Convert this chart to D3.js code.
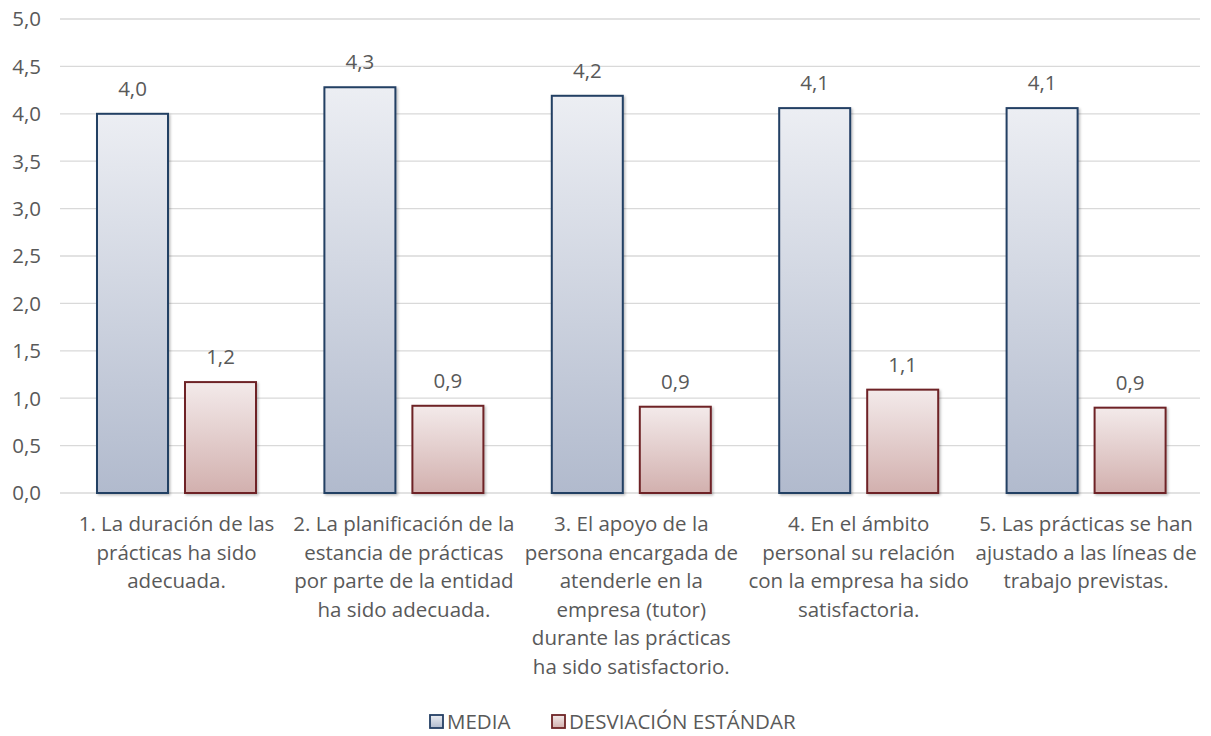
<!DOCTYPE html>
<html><head><meta charset="utf-8">
<script src="https://cdn.jsdelivr.net/npm/d3@7"></script>
<style>body{margin:0;background:#fff;} svg{display:block;font-family:"Open Sans", Lato, sans-serif;}</style>
</head><body>
<svg id="c" width="1211" height="736"></svg>
<script>
const categories = [
  ["1. La duración de las","prácticas ha sido","adecuada."],
  ["2. La planificación de la","estancia de prácticas","por parte de la entidad","ha sido adecuada."],
  ["3. El apoyo de la","persona encargada de","atenderle en la","empresa (tutor)","durante las prácticas","ha sido satisfactorio."],
  ["4. En el ámbito","personal su relación","con la empresa ha sido","satisfactoria."],
  ["5. Las prácticas se han","ajustado a las líneas de","trabajo previstas."]
];
const seriesNames = ["MEDIA","DESVIACIÓN ESTÁNDAR"];
const media = [4.0, 4.28, 4.19, 4.06, 4.06];
const desviacion = [1.17, 0.92, 0.91, 1.09, 0.90];
const yTicks = [0,0.5,1,1.5,2,2.5,3,3.5,4,4.5,5];

(function(){
const svg = d3.select("#c");
const pL = 60, pR = 1200, pT = 19, pB = 493;
const FS = 20.5;
const x = d3.scaleBand().domain(d3.range(categories.length)).range([62.8,1199.8]).paddingInner(0).paddingOuter(0);
const y = d3.scaleLinear().domain([0,5]).range([pB,pT]);
const fmt = v => d3.format(".1f")(v).replace(".", ",");

const defs = svg.append("defs");
function grad(id, c1, c2){
  const g = defs.append("linearGradient").attr("id",id).attr("x1",0).attr("y1",0).attr("x2",0).attr("y2",1);
  g.append("stop").attr("offset","0%").attr("stop-color",c1);
  g.append("stop").attr("offset","100%").attr("stop-color",c2);
}
grad("gBlue","#eceef3","#b1bacd");
grad("gRed","#f3eaea","#d2b0ae");
const f = defs.append("filter").attr("id","sh").attr("x","-10%").attr("y","-10%").attr("width","130%").attr("height","130%");
f.append("feDropShadow").attr("dx",1.5).attr("dy",1.5).attr("stdDeviation",1.2).attr("flood-color","#000").attr("flood-opacity",0.25);

svg.append("g").selectAll("line").data(yTicks).join("line")
  .attr("x1",pL).attr("x2",pR).attr("y1",d=>y(d)).attr("y2",d=>y(d))
  .attr("stroke","#d9d9d9").attr("stroke-width",1.3);

svg.append("g").selectAll("text").data(yTicks).join("text")
  .attr("x",41).attr("y",d=>y(d)).attr("dy","0.36em").attr("text-anchor","end")
  .attr("font-size",FS).attr("fill","#595959").text(d=>fmt(d));

const bw = 71, gap = 17;
const series = [
  {vals: media, fill:"url(#gBlue)", stroke:"#243f64", off:-(gap/2+bw)},
  {vals: desviacion, fill:"url(#gRed)", stroke:"#6e2426", off: gap/2}
];
series.forEach(s=>{
  const g = svg.append("g");
  g.selectAll("rect").data(s.vals).join("rect")
    .attr("x",(d,i)=>x(i)+x.bandwidth()/2+s.off)
    .attr("y",d=>y(d)).attr("width",bw).attr("height",d=>y(0)-y(d))
    .attr("fill",s.fill).attr("stroke",s.stroke).attr("stroke-width",2)
    .attr("filter","url(#sh)");
  g.selectAll("text").data(s.vals).join("text")
    .attr("x",(d,i)=>x(i)+x.bandwidth()/2+s.off+bw/2)
    .attr("y",d=>y(d)-18).attr("text-anchor","middle")
    .attr("font-size",FS).attr("fill","#595959").text(d=>fmt(d));
});

categories.forEach((lines,i)=>{
  const t = svg.append("text").attr("text-anchor","middle").attr("font-size",FS).attr("fill","#595959");
  lines.forEach((ln,j)=>{
    t.append("tspan").attr("x",x(i)+x.bandwidth()/2).attr("y",531+j*28.5).text(ln);
  });
});

const lg = svg.append("g");
const items = [{n:seriesNames[0],fill:"url(#gBlue)",stroke:"#243f64",x:430},{n:seriesNames[1],fill:"url(#gRed)",stroke:"#6e2426",x:552}];
items.forEach(it=>{
  lg.append("rect").attr("x",it.x).attr("y",715).attr("width",13).attr("height",13)
    .attr("fill",it.fill).attr("stroke",it.stroke).attr("stroke-width",1.8);
  lg.append("text").attr("x",it.x+17).attr("y",722).attr("dy","0.36em")
    .attr("font-size",FS).attr("fill","#595959").text(it.n);
});
})();
</script>
</body></html>
